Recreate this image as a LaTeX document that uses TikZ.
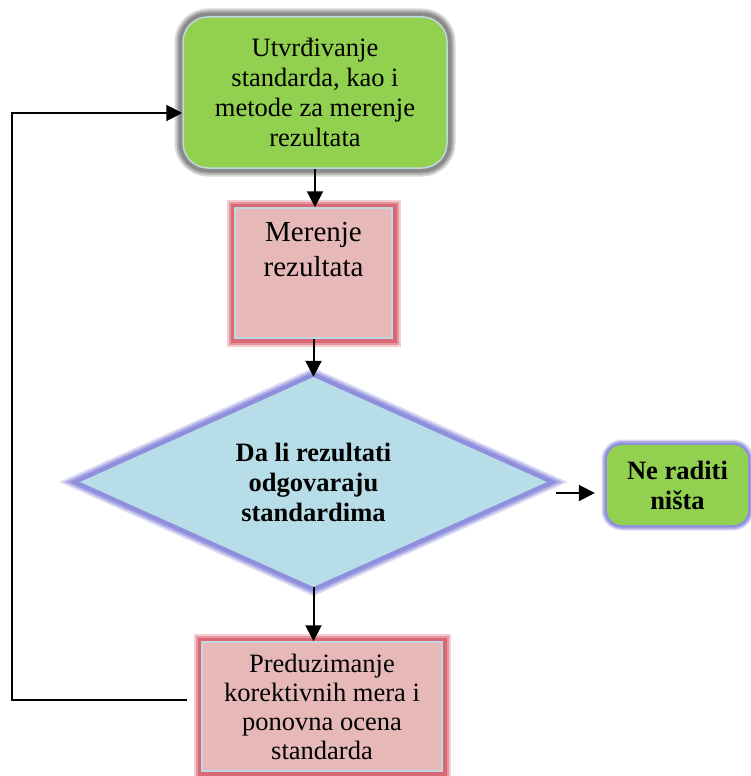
\documentclass[tikz,border=0pt]{standalone}
\usepackage{fontspec}
\setmainfont{Liberation Serif}
\usetikzlibrary{shapes.geometric,arrows.meta}
\definecolor{boxgreen}{HTML}{92D050}
\definecolor{boxpink}{HTML}{E6B9B8}
\definecolor{boxblue}{HTML}{B7DDE8}
\definecolor{edgeline}{HTML}{BFD7E0}
\definecolor{glowred}{HTML}{CC3344}
\definecolor{glowblue}{HTML}{6666D0}
\definecolor{glowgray}{HTML}{606060}
\tikzset{
  glow/.style={preaction={draw=#1, line width=17pt, opacity=0.25},
               preaction={draw=#1, line width=13pt, opacity=0.35},
               preaction={draw=#1, line width=9pt, opacity=0.45}},
  glowthin/.style={preaction={draw=#1, line width=11pt, opacity=0.25},
               preaction={draw=#1, line width=8pt, opacity=0.35},
               preaction={draw=#1, line width=5pt, opacity=0.45}},
  txt/.style={font=\fontsize{26.5}{30}\selectfont, align=center, text=black, inner sep=0pt},
  btxt/.style={font=\bfseries\fontsize{26.5}{30}\selectfont, align=center, text=black, inner sep=0pt},
  conn/.style={draw=black, line width=2pt, -{Triangle[length=16pt,width=16pt]}},
}
\begin{document}
\begin{tikzpicture}[x=1pt,y=-1pt]
\useasboundingbox (0,0) rectangle (751,776);
% nodes
\node[glow=glowgray, fill=boxgreen, draw=edgeline, line width=1.5pt, rounded corners=25pt,
      minimum width=264pt, minimum height=151pt, txt] (b1) at (315,92.5)
      {Utvrđivanje\\standarda, kao i\\metode za merenje\\rezultata};
\node[glow=glowred, fill=boxpink, draw=edgeline, line width=1.5pt,
      minimum width=157pt, minimum height=130pt, inner sep=0pt] (b2) at (313.5,273) {};
\node[txt, font=\fontsize{29}{35}\selectfont, anchor=north] (t2) at (313.5,222) {Merenje\\rezultata};
\node[glow=glowblue, diamond, aspect=2.224, fill=boxblue,
      minimum width=467pt, minimum height=210pt, btxt] (d) at (313.5,482)
      {Da li rezultati\\odgovaraju\\standardima};
\node[glowthin=glowblue, fill=boxgreen, rounded corners=15pt,
      minimum width=141pt, minimum height=80pt, btxt] (n) at (677.5,485) {Ne raditi\\ništa};
\node[glow=glowred, fill=boxpink, draw=edgeline, line width=1.5pt,
      minimum width=240pt, minimum height=129pt, txt, font=\fontsize{26.5}{29}\selectfont] (b4) at (322,706.5)
      {Preduzimanje\\korektivnih mera i\\ponovna ocena\\standarda};
% connectors
\draw[conn] (b1.south) -- (b1.south |- b2.north);
\draw[conn] (b2.south -| d.north) -- (d.north);
\draw[conn] (d.south) -- (d.south |- b4.north);
\coordinate (a3) at (556,493);
\draw[conn, shorten >=12pt] (a3) -- (a3 -| n.west);
\coordinate (l1) at (12,700);
\coordinate (l2) at (12,113);
\draw[conn] ([xshift=-14pt]b4.west |- l1) -- (l1) -- (l2) -- (l2 -| b1.west);
\end{tikzpicture}
\end{document}
